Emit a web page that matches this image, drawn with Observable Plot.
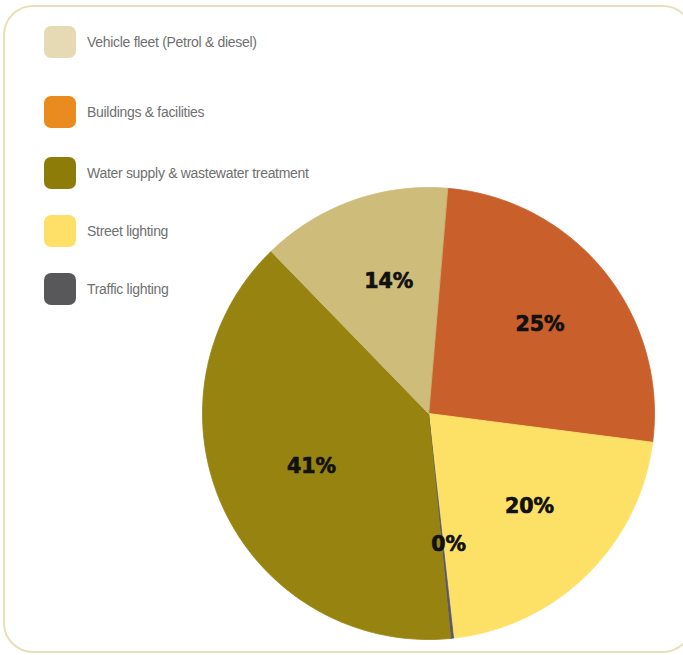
<!DOCTYPE html>
<html>
<head>
<meta charset="utf-8">
<script src="https://cdn.jsdelivr.net/npm/d3@7"></script>
<script src="https://cdn.jsdelivr.net/npm/@observablehq/plot@0.6"></script>
<style>
  html, body { margin: 0; padding: 0; background: #ffffff; }
  #wrap { position: relative; width: 683px; height: 655px; overflow: hidden; background: #fff; }
  #frame { position: absolute; left: 3px; top: 5px; width: 686px; height: 644px;
           border: 2.5px solid #e9dfbb; border-radius: 30px; }
  #chart { position: absolute; left: 0; top: 0; }
  #legend { position: absolute; left: 44px; top: 0; font-family: "Liberation Sans", Arial, sans-serif;
            font-size: 14px; letter-spacing: -0.3px; color: #707070; }
  .item { position: absolute; left: 0; display: flex; align-items: center; white-space: nowrap; }
  .sw { width: 32px; height: 32px; border-radius: 7px; margin-right: 11px; flex: none; }
</style>
</head>
<body>
<div id="wrap">
  <div id="frame"></div>
  <div id="chart"></div>
  <div id="legend"></div>
</div>
<script>
// ---- data ----
const categories = [
  "Vehicle fleet (Petrol & diesel)",
  "Buildings & facilities",
  "Water supply & wastewater treatment",
  "Street lighting",
  "Traffic lighting"
];
// share of each slice in percent
const shares = [13.6, 25.7, 39.3, 21.2, 0.2];
// printed slice labels
const labels = ["14%", "25%", "41%", "20%", "0%"];
const legendColors = ["#e6dab5", "#e98b1e", "#8e7c08", "#fee068", "#58585a"];
const sliceColors  = ["#cdbc7a", "#c95f2b", "#978410", "#fde166", "#5b5670"];
// clockwise order of slices, starting near 12 o'clock
const sliceOrder = ["Buildings & facilities", "Street lighting", "Traffic lighting",
                    "Water supply & wastewater treatment", "Vehicle fleet (Petrol & diesel)"];
const startAngleDeg = 4.8;
const legendTops = [26, 96, 157, 215, 273];

// ---- build pie geometry in unit-circle data space ----
const total = d3.sum(shares);
const pts = [];
const labelPts = [];
let a = startAngleDeg * Math.PI / 180;
for (const cat of sliceOrder) {
  const i = categories.indexOf(cat);
  const span = shares[i] / total * 2 * Math.PI;
  const a0 = a, a1 = a + span;
  pts.push({cat, x: 0, y: 0});
  const n = Math.max(2, Math.ceil((a1 - a0) / (Math.PI / 180)));
  for (let k = 0; k <= n; k++) {
    const t = a0 + (a1 - a0) * k / n;
    pts.push({cat, x: Math.sin(t), y: Math.cos(t)});
  }
  const m = (a0 + a1) / 2;
  labelPts.push({cat, label: labels[i], x: 0.6 * Math.sin(m), y: 0.6 * Math.cos(m)});
  a = a1;
}

const R = 226, cx = 428, cy = 413, W = 683, H = 655;
const plot = Plot.plot({
  width: W,
  height: H,
  marginLeft: cx - R,
  marginRight: W - (cx + R),
  marginTop: cy - R,
  marginBottom: H - (cy + R),
  x: {domain: [-1, 1], axis: null},
  y: {domain: [-1, 1], axis: null},
  color: {domain: categories, range: sliceColors},
  style: {background: "transparent"},
  marks: [
    Plot.line(pts, {x: "x", y: "y", z: "cat", fill: "cat", stroke: "cat", strokeWidth: 0.8, curve: "linear-closed"}),
    Plot.text(labelPts, {x: "x", y: "y", text: "label", fill: "#111", stroke: "#111", strokeWidth: 0.7,
                         fontSize: 20.5, fontWeight: "bold", fontFamily: "DejaVu Sans", dx: 6, dy: -4})
  ]
});
document.getElementById("chart").appendChild(plot);

// ---- legend ----
const leg = document.getElementById("legend");
categories.forEach((c, i) => {
  const it = document.createElement("div");
  it.className = "item";
  it.style.top = legendTops[i] + "px";
  const sw = document.createElement("div");
  sw.className = "sw";
  sw.style.background = legendColors[i];
  const tx = document.createElement("span");
  tx.textContent = c;
  it.appendChild(sw); it.appendChild(tx);
  leg.appendChild(it);
});
</script>
</body>
</html>
